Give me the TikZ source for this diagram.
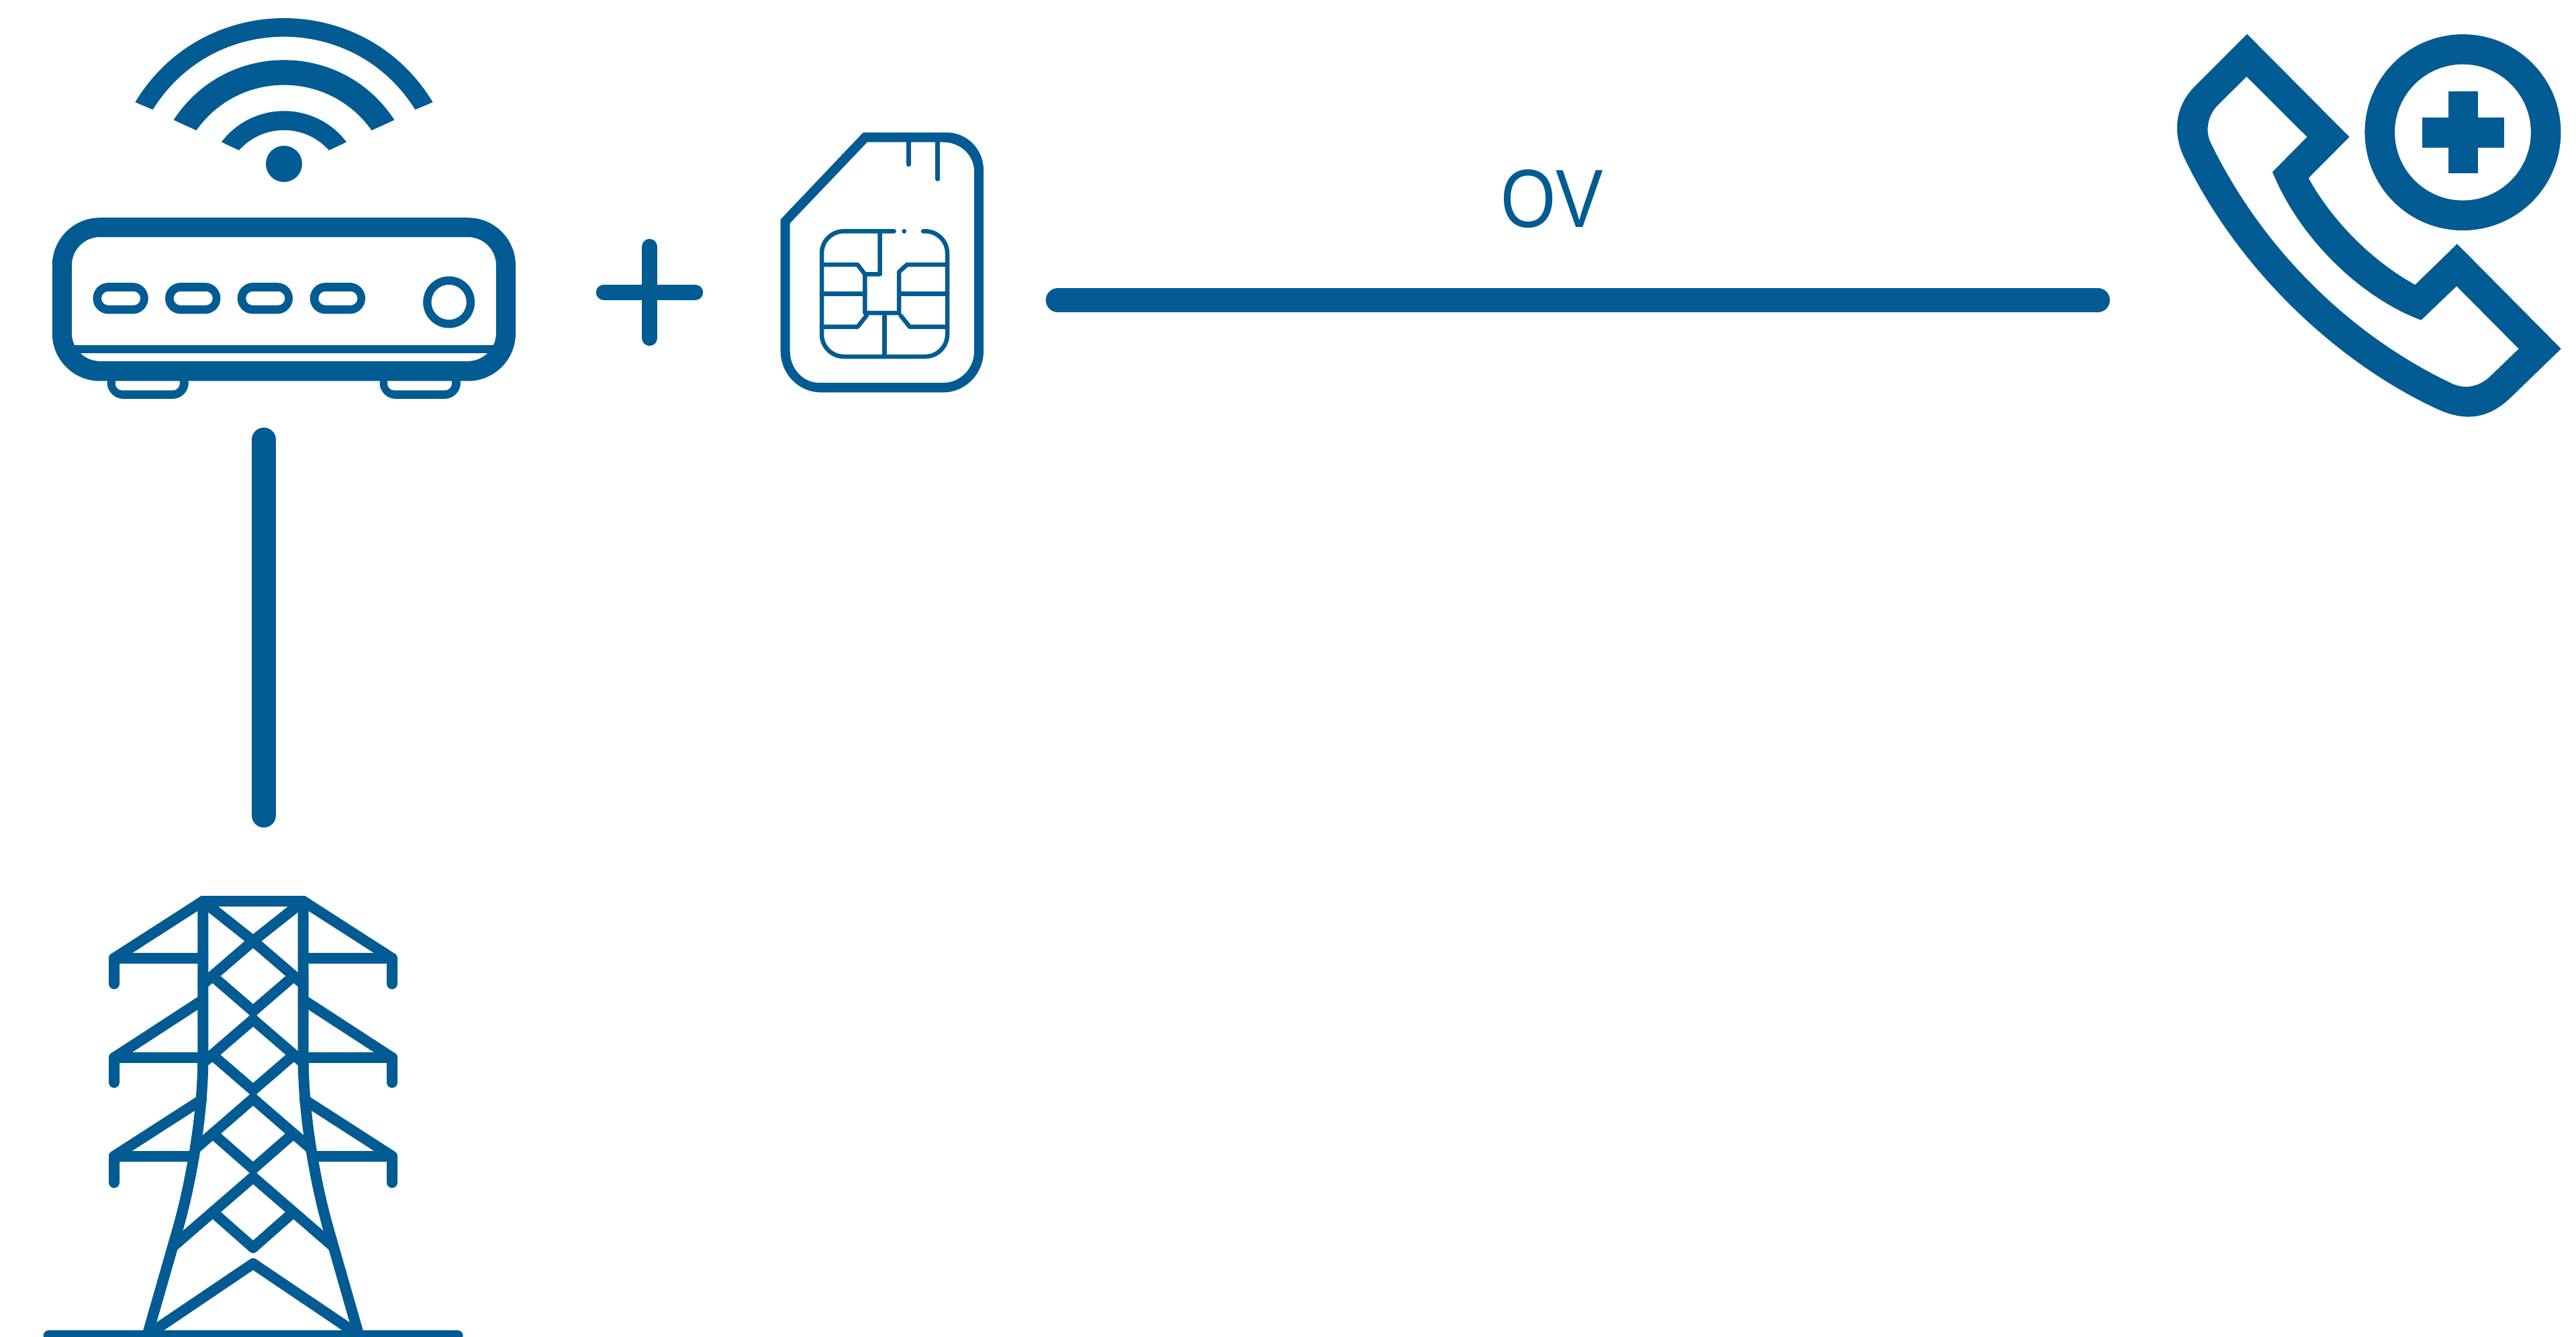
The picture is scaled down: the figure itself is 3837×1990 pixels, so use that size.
\documentclass[tikz,border=0pt]{standalone}
\usepackage{fontspec}
\usepackage{graphicx}
\setmainfont{Liberation Sans}
\definecolor{iconblue}{HTML}{025B92}
\def\rbox#1#2#3#4#5{(#1+#5,#2) -- (#3-#5,#2) .. controls (#3-0.448*#5,#2) and (#3,#2+0.448*#5) .. (#3,#2+#5) -- (#3,#4-#5) .. controls (#3,#4-0.448*#5) and (#3-0.448*#5,#4) .. (#3-#5,#4) -- (#1+#5,#4) .. controls (#1+0.448*#5,#4) and (#1,#4-0.448*#5) .. (#1,#4-#5) -- (#1,#2+#5) .. controls (#1,#2+0.448*#5) and (#1+0.448*#5,#2) .. (#1+#5,#2) -- cycle}
\tikzset{
  solidicon/.style={fill=iconblue,draw=none},
  ringicon/.style={fill=iconblue,draw=none,even odd rule},
  thickbar/.style={draw=iconblue,line width=7.2pt,line cap=round},
  plusbar/.style={draw=iconblue,line width=4.7pt,line cap=round},
  chipline/.style={draw=iconblue,line width=1.3pt,line cap=round,line join=round},
  towerline/.style={draw=iconblue,line width=3.2pt,line cap=round,line join=round},
  ovtext/.style={text=iconblue,font=\fontsize{24.6pt}{24.6pt}\selectfont,inner sep=0pt}
}
\begin{document}
\begin{tikzpicture}[x=0.2pt,y=-0.2pt]
\useasboundingbox (0,0) rectangle (3837,1990);
% wifi arcs
\fill[solidicon] (201.4,152.2) .. controls (302,-14.7) and (544,-14.7) .. (644.6,152.2) -- (618.4,163.3) .. controls (528.4,18.4) and (317.6,18.4) .. (227.6,163.3) -- cycle;
\fill[solidicon] (258.6,178.7) .. controls (335.9,59.6) and (510.1,59.6) .. (587.4,178.7) -- (553.5,194.1) .. controls (489.8,104) and (356.2,104) .. (292.5,194.1) -- cycle;
\fill[solidicon] (329.9,211.5) .. controls (376.7,149.9) and (469.3,149.9) .. (516.1,211.5) -- (490,223.8) .. controls (454.3,183.8) and (391.7,183.8) .. (356,223.8) -- cycle;
\fill[solidicon] (423,244) circle[radius=27];
% router feet
\fill[ringicon] \rbox{159.7}{548}{280.9}{593.9}{24} \rbox{171.8}{555}{267.8}{581.3}{10};
\fill[ringicon] \rbox{565.5}{548}{686.1}{593.9}{24} \rbox{577}{555}{673}{581.3}{10};
% router body
\fill[ringicon] \rbox{77.8}{324.2}{768}{567.4}{71} \rbox{106.9}{353}{739}{537.8}{42};
\fill[solidicon] (108,514) rectangle (738,526);
\foreach \d in {0,107.6,215.2,323.3}{
  \fill[ringicon] \rbox{138.4+\d}{421.1}{220.8+\d}{467.4}{23.1} \rbox{151+\d}{433.8}{209.2+\d}{454.7}{10.4};
}
\fill[ringicon] (668.7,450) circle[radius=38.5] (668.7,450) circle[radius=26.2];
% plus
\coordinate (plusW) at (899.5,435.3);
\coordinate (plusE) at (1035.5,435.3);
\coordinate (plusN) at (967.7,367.5);
\coordinate (plusS) at (967.7,503.2);
\draw[plusbar] (plusW) -- (plusE);
\draw[plusbar] (plusN) -- (plusS);
% SIM card
\fill[ringicon] (1285.7,197.3) -- (1410,197.3) .. controls (1440.4,197.3) and (1465,222.3) .. (1465,253) -- (1465,523) .. controls (1465,556.8) and (1438,584.3) .. (1405,584.3) -- (1223,584.3) .. controls (1189.7,584.3) and (1162.7,556.8) .. (1162.7,523) -- (1162.7,326.7) -- cycle
 (1291.7,211.7) -- (1405,211.7) .. controls (1430.4,211.7) and (1451,231) .. (1451,255) -- (1451,523) .. controls (1451,549) and (1430.4,570) .. (1405,570) -- (1220,570) .. controls (1196,570) and (1176.7,549) .. (1176.7,523) -- (1176.7,332.3) -- cycle;
\draw[chipline] (1353.3,205) -- (1353.3,245);
\draw[chipline] (1396.7,205) -- (1396.7,266.7);
\draw[chipline] (1331.7,344.3) -- (1257,344.3) .. controls (1238.8,344.3) and (1224,359) .. (1224,377) -- (1224,498) .. controls (1224,516.2) and (1238.8,531) .. (1257,531) -- (1378,531) .. controls (1396.2,531) and (1411,516.2) .. (1411,498) -- (1411,377) .. controls (1411,359) and (1396.2,344.3) .. (1378,344.3) -- (1375,344.3);
\fill[solidicon] (1346.7,344.3) circle[radius=3.4];
\draw[chipline] (1310.7,344.3) -- (1310.7,408.3) -- (1288.3,408.3) -- (1277.3,394) -- (1224,394);
\draw[chipline] (1288.3,408.3) -- (1288.3,466) -- (1339,466) -- (1339,405) -- (1351,394) -- (1411,394);
\draw[chipline] (1224,437.7) -- (1288.3,437.7);
\draw[chipline] (1339,437.7) -- (1411,437.7);
\draw[chipline] (1290.7,470) -- (1277.3,486.7) -- (1224,486.7);
\draw[chipline] (1341.7,470) -- (1355,486.7) -- (1411,486.7);
\draw[chipline] (1317.3,466) -- (1317.3,531);
% horizontal bar and label
\coordinate (hbarW) at (1575.7,447);
\coordinate (hbarE) at (3124.7,447);
\draw[thickbar] (hbarW) -- (hbarE);
\node[ovtext] (ovlabel) at (2312,296.5) {\scalebox{.86}[1]{OV}};
% vertical bar
\coordinate (vbarN) at (393,654.7);
\coordinate (vbarS) at (393,1214.3);
\draw[thickbar] (vbarN) -- (vbarS);
% phone
\fill[ringicon] (3347.1,50.8) -- (3499.4,203.9) -- (3438.5,265.2) .. controls (3480.3,340.3) and (3545.3,395.6) .. (3597.3,424.1) -- (3659.9,363.2) -- (3814.7,519.4) -- (3740.3,591.4) .. controls (3706,625) and (3670.6,627.6) .. (3630.6,609.2) .. controls (3484.4,542) and (3334.1,403.5) .. (3252.8,233.5) .. controls (3236.8,199.5) and (3238,158) .. (3271.1,126.8) -- cycle
 (3346.3,114.1) -- (3436.4,203.9) -- (3384.8,256.1) .. controls (3427.5,360) and (3520.9,445.1) .. (3606.3,476.7) -- (3659.1,426.1) -- (3751.7,519.4) -- (3709.9,559.7) .. controls (3693.6,575.6) and (3671.3,581.5) .. (3648.9,569.6) .. controls (3508.8,502.4) and (3374.7,379.8) .. (3293.4,213.8) .. controls (3283.3,194) and (3289.4,170.3) .. (3303.6,156.4) -- cycle;
\fill[ringicon] (3668.4,197.1) circle[radius=146] (3668.4,197.1) circle[radius=101.4];
\fill[solidicon] (3607.5,175.4) rectangle (3730.2,219.7);
\fill[solidicon] (3646.9,135.9) rectangle (3690.8,258.4);
% tower
\foreach \m in {1,-1}{
\begin{scope}[shift={(377,0)},xscale=\m]
  \draw[towerline] (-74.7,1342) -- (74.7,1342);
  \draw[towerline] (-74.7,1342) -- (-207,1427) -- (-207,1465);
  \draw[towerline] (-207,1427) -- (-74.7,1427);
  \draw[towerline] (-74.7,1342) -- (-74.7,1575) .. controls (-74.7,1660) and (-92,1760) .. (-113,1833) -- (-159.5,1995);
  \draw[towerline] (-74.7,1489) -- (-207,1575) -- (-207,1612);
  \draw[towerline] (-207,1575) -- (-74.7,1575);
  \draw[towerline] (-77,1638) -- (-207,1721.7) -- (-207,1761);
  \draw[towerline] (-207,1721.7) -- (-88,1721.7);
  \draw[towerline] (-74.7,1342) -- (0,1401.2) -- (-74.7,1465.5);
  \draw[towerline] (-60.6,1453.4) -- (0,1505.7);
  \draw[towerline] (0,1518.3) -- (-74.7,1582.7);
  \draw[towerline] (-60.8,1570.7) -- (0,1623.2);
  \draw[towerline] (0,1636) -- (-85.5,1710);
  \draw[towerline] (-60,1688) -- (0,1740.5);
  \draw[towerline] (0,1752.8) -- (-118,1855);
  \draw[towerline] (-60,1805) -- (0,1857.8);
  \draw[towerline] (0,1881.7) -- (-150,1983);
\end{scope}
}
\coordinate (groundW) at (72.6,1989);
\coordinate (groundE) at (681.6,1989);
\draw[towerline] (groundW) -- (groundE);
\end{tikzpicture}
\end{document}
